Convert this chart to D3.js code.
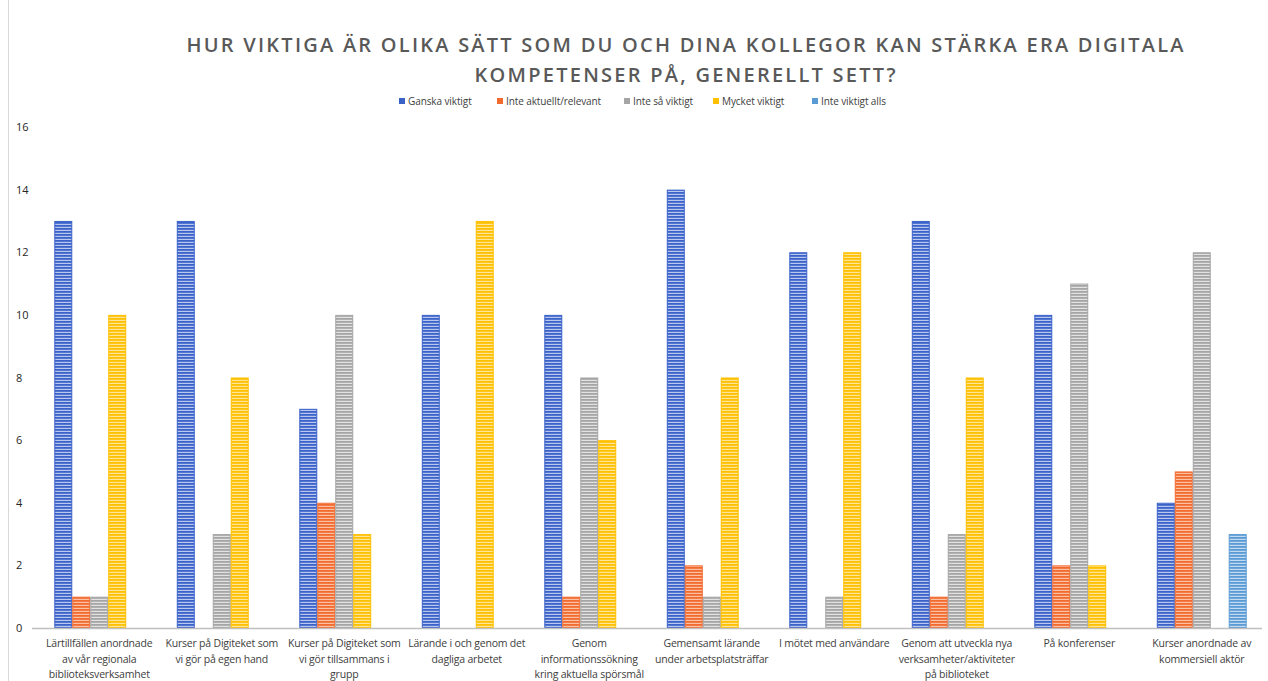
<!doctype html>
<html lang="sv">
<head>
<meta charset="utf-8">
<script src="https://d3js.org/d3.v7.min.js"></script>
<style>
  body { margin: 0; background: #fff; }
  svg { display: block; font-family: "Open Sans", "Liberation Sans", sans-serif; }
</style>
</head>
<body>
<div id="chart"></div>
<script>
// categories (tick labels, already split the way the chart wraps them)
var categories = [
    ["Lärtillfällen anordnade", "av vår regionala", "biblioteksverksamhet"],
    ["Kurser på Digiteket som", "vi gör på egen hand"],
    ["Kurser på Digiteket som", "vi gör tillsammans i", "grupp"],
    ["Lärande i och genom det", "dagliga arbetet"],
    ["Genom", "informationssökning", "kring aktuella spörsmål"],
    ["Gemensamt lärande", "under arbetsplatsträffar"],
    ["I mötet med användare"],
    ["Genom att utveckla nya", "verksamheter/aktiviteter", "på biblioteket"],
    ["På konferenser"],
    ["Kurser anordnade av", "kommersiell aktör"]
];
var seriesNames = ["Ganska viktigt", "Inte aktuellt/relevant", "Inte så viktigt", "Mycket viktigt", "Inte viktigt alls"];
var ganska     = [13, 13, 7, 10, 10, 14, 12, 13, 10, 4];
var inteAkt    = [1, 0, 4, 0, 1, 2, 0, 1, 2, 5];
var inteSa     = [1, 3, 10, 0, 8, 1, 1, 3, 11, 12];
var mycket     = [10, 8, 3, 13, 6, 8, 12, 8, 2, 0];
var inteAlls   = [0, 0, 0, 0, 0, 0, 0, 0, 0, 3];
var yTicks = [0, 2, 4, 6, 8, 10, 12, 14, 16];

var seriesValues = [ganska, inteAkt, inteSa, mycket, inteAlls];
var colors = ["#3a62c9", "#f26a2e", "#a5a5a5", "#ffc000", "#5b9bd5"];
var stripeLight = ["#b9c6ee", "#fbc1a4", "#e2e2e2", "#ffe599", "#c2dbf1"];

var width = 1268, height = 681;
var margin = { top: 127, bottom: 53, left: 38, right: 5 };

var svg = d3.select("#chart").append("svg")
    .attr("width", width)
    .attr("height", height);

// striped fill patterns, one per series
var defs = svg.append("defs");
colors.forEach(function (c, i) {
    var p = defs.append("pattern")
        .attr("id", "stripe" + i)
        .attr("patternUnits", "userSpaceOnUse")
        .attr("width", 4).attr("height", 3);
    p.append("rect").attr("width", 4).attr("height", 3).attr("fill", stripeLight[i]);
    p.append("rect").attr("width", 4).attr("height", 1.8).attr("fill", c);
});

// left border line
svg.append("line")
    .attr("x1", 8.5).attr("x2", 8.5)
    .attr("y1", 0).attr("y2", height)
    .attr("stroke", "#d9d9d9");

// title
var title = ["HUR VIKTIGA ÄR OLIKA SÄTT SOM DU OCH DINA KOLLEGOR KAN STÄRKA ERA DIGITALA",
             "KOMPETENSER PÅ, GENERELLT SETT?"];
var titleLen = [997, 421];
title.forEach(function (t, i) {
    svg.append("text")
        .attr("x", 685).attr("y", 52 + i * 30)
        .attr("text-anchor", "middle")
        .attr("font-size", 20)
        .attr("font-weight", 600)
        .attr("fill", "#595959")
        .attr("textLength", titleLen[i])
        .attr("lengthAdjust", "spacing")
        .text(t);
});

// legend
var legendX = [399, 497, 624, 713, 812];
var legend = svg.append("g").attr("class", "legend");
seriesNames.forEach(function (s, i) {
    var g = legend.append("g").attr("transform", "translate(" + legendX[i] + ",98)");
    g.append("rect").attr("width", 6).attr("height", 6).attr("fill", colors[i]);
    g.append("text").attr("x", 9).attr("y", 6.5)
        .attr("font-size", 10).attr("fill", "#404040")
        .attr("letter-spacing", -0.1)
        .text(s);
});

var x0 = d3.scaleBand()
    .domain(d3.range(categories.length))
    .range([margin.left, width - margin.right]);

var groupW = x0.bandwidth() * 0.734;
var x1 = d3.scaleBand()
    .domain(d3.range(seriesNames.length))
    .range([(x0.bandwidth() - groupW) / 2, (x0.bandwidth() + groupW) / 2]);

var y = d3.scaleLinear()
    .domain([0, 16])
    .range([height - margin.bottom, margin.top]);

// y tick labels
svg.append("g").selectAll("text")
    .data(yTicks)
    .join("text")
    .attr("x", 16)
    .attr("y", d => y(d) + 4)
    .attr("font-size", 11)
    .attr("fill", "#262626")
    .text(d => d);

// bars
var groups = svg.append("g").selectAll("g")
    .data(categories)
    .join("g")
    .attr("transform", (d, i) => "translate(" + x0(i) + ",0)");

groups.selectAll("rect")
    .data((d, ci) => seriesValues.map((vals, si) => ({ s: si, v: vals[ci] })))
    .join("rect")
    .filter(d => d.v > 0)
    .attr("x", d => x1(d.s) + 0.5)
    .attr("width", x1.bandwidth() - 1)
    .attr("y", d => y(d.v) + 0.5)
    .attr("height", d => y(0) - y(d.v) - 0.5)
    .attr("fill", d => "url(#stripe" + d.s + ")")
    .attr("stroke", d => colors[d.s])
    .attr("stroke-width", 1);

// x axis line
svg.append("line")
    .attr("x1", 32).attr("x2", width - 6)
    .attr("y1", y(0) + 0.5).attr("y2", y(0) + 0.5)
    .attr("stroke", "#bfbfbf")
    .attr("stroke-width", 1.5);

// category labels
groups.each(function (lines, i) {
    var t = d3.select(this).append("text")
        .attr("text-anchor", "middle")
        .attr("font-size", 10.5)
        .attr("fill", "#404040")
        .attr("letter-spacing", -0.2);
    lines.forEach(function (l, k) {
        t.append("tspan")
            .attr("x", x0.bandwidth() / 2)
            .attr("y", 647 + k * 15.5)
            .text(l);
    });
});
</script>
</body>
</html>
